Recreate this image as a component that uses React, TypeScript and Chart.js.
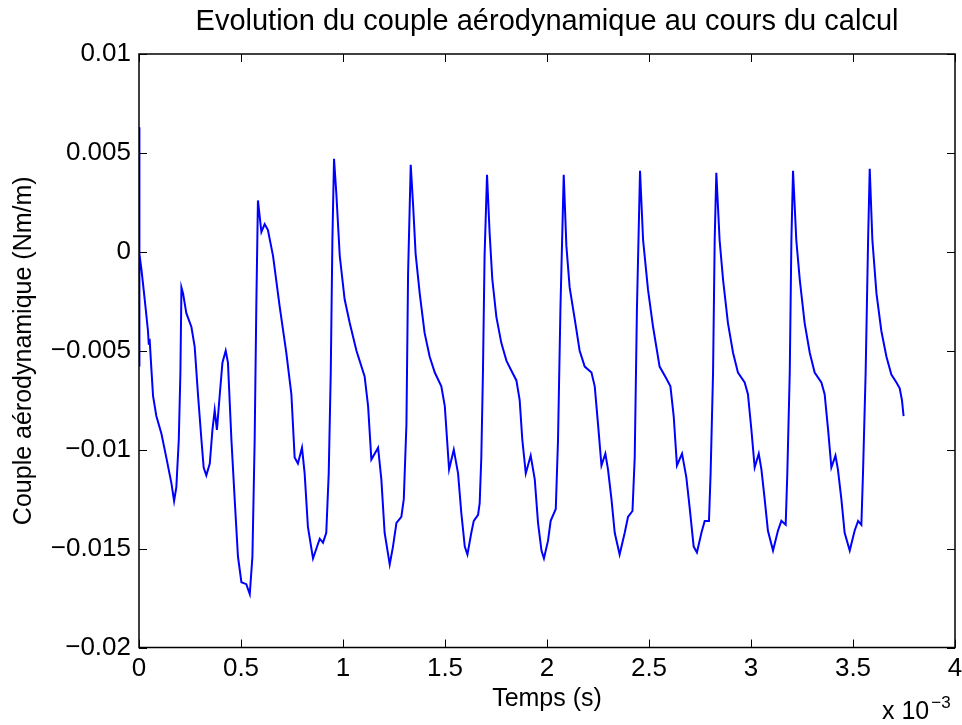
import React, { useEffect, useRef } from "react";
import { Chart, registerables } from "chart.js";

Chart.register(...registerables);

// Time in units of 10^-3 s (as shown on the axis)
const timeMs: number[] = [
  0, 0.001, 0.003, 0.012, 0.028, 0.044, 0.048, 0.052, 0.060, 0.069, 0.085, 0.110, 0.134, 0.159, 0.172,
  0.183, 0.195, 0.203, 0.208, 0.216, 0.232, 0.257, 0.273, 0.289, 0.306, 0.317, 0.330, 0.347, 0.360, 0.371,
  0.382, 0.396, 0.409, 0.425, 0.436, 0.453, 0.469, 0.485, 0.502, 0.526, 0.543, 0.556, 0.567, 0.575, 0.583,
  0.600, 0.616, 0.632, 0.657, 0.690, 0.722, 0.747, 0.763, 0.779, 0.799, 0.812, 0.828, 0.853, 0.886, 0.902,
  0.918, 0.930, 0.940, 0.948, 0.956,
  0.967, 0.984, 1.008, 1.033, 1.066, 1.106, 1.123, 1.139, 1.172, 1.188, 1.204, 1.229, 1.245, 1.262, 1.286,
  1.298, 1.311, 1.319, 1.332,
  1.344, 1.356, 1.376, 1.400, 1.425, 1.450, 1.482, 1.499, 1.520, 1.543, 1.564, 1.580, 1.597, 1.610, 1.629,
  1.641, 1.662, 1.670, 1.678, 1.686, 1.694, 1.706,
  1.719, 1.732, 1.752, 1.776, 1.801, 1.825, 1.850, 1.866, 1.879, 1.896, 1.920, 1.940, 1.956, 1.973, 1.985,
  2.005, 2.018, 2.043, 2.054, 2.066, 2.082,
  2.095, 2.111, 2.136, 2.160, 2.185, 2.218, 2.234, 2.250, 2.267, 2.286, 2.299, 2.316, 2.332, 2.356, 2.381,
  2.397, 2.419, 2.430, 2.441, 2.456,
  2.471, 2.495, 2.520, 2.552, 2.585, 2.605, 2.621, 2.637, 2.662, 2.683, 2.699, 2.719, 2.735, 2.757, 2.773,
  2.794, 2.802, 2.814, 2.822, 2.830,
  2.846, 2.863, 2.887, 2.912, 2.936, 2.969, 2.985, 3.002, 3.018, 3.038, 3.051, 3.067, 3.083, 3.108, 3.132,
  3.149, 3.170, 3.178, 3.190, 3.198, 3.206,
  3.222, 3.239, 3.263, 3.288, 3.312, 3.345, 3.361, 3.378, 3.394, 3.414, 3.426, 3.443, 3.459, 3.484, 3.508,
  3.525, 3.541, 3.549, 3.562, 3.574, 3.582,
  3.595, 3.615, 3.639, 3.664, 3.688, 3.713, 3.729, 3.740, 3.748,
];

// Aerodynamic torque (Nm/m)
const torque: number[] = [
  0.0063, -0.0058, -0.0001, -0.0009, -0.0024, -0.0040, -0.0047, -0.0044, -0.0058, -0.0073, -0.0083, -0.0092, -0.0104, -0.0117, -0.0126,
  -0.0119, -0.0095, -0.0061, -0.0018, -0.0021, -0.0031, -0.0038, -0.0048, -0.0072, -0.0095, -0.0109, -0.0113, -0.0107, -0.0090, -0.0080,
  -0.0090, -0.0072, -0.0056, -0.0050, -0.0056, -0.0095, -0.0125, -0.0154, -0.0167, -0.0168, -0.0173, -0.0154, -0.0095, -0.0028, 0.0026,
  0.0010, 0.0014, 0.0011, -0.0002, -0.0028, -0.0051, -0.0072, -0.0104, -0.0107, -0.0099, -0.0112, -0.0139, -0.0155, -0.0145, -0.0147,
  -0.0142, -0.0112, -0.0061, 0.0006, 0.0047,
  0.0030, -0.0002, -0.0024, -0.0036, -0.0050, -0.0063, -0.0078, -0.0105, -0.0099, -0.0115, -0.0142, -0.0158, -0.0149, -0.0137, -0.0134,
  -0.0125, -0.0087, -0.0011, 0.0044,
  0.0023, -0.0001, -0.0021, -0.0041, -0.0053, -0.0061, -0.0068, -0.0078, -0.0110, -0.0100, -0.0112, -0.0132, -0.0149, -0.0153, -0.0142,
  -0.0136, -0.0133, -0.0127, -0.0104, -0.0061, -0.0002, 0.0039,
  0.0009, -0.0014, -0.0033, -0.0046, -0.0055, -0.0060, -0.0065, -0.0075, -0.0095, -0.0112, -0.0103, -0.0115, -0.0137, -0.0151, -0.0155,
  -0.0146, -0.0136, -0.0130, -0.0095, -0.0028, 0.0039,
  0.0003, -0.0018, -0.0034, -0.0050, -0.0058, -0.0061, -0.0068, -0.0087, -0.0108, -0.0102, -0.0110, -0.0125, -0.0142, -0.0153, -0.0142,
  -0.0134, -0.0131, -0.0104, -0.0028, 0.0041,
  0.0006, -0.0019, -0.0038, -0.0058, -0.0064, -0.0068, -0.0083, -0.0108, -0.0102, -0.0114, -0.0129, -0.0149, -0.0152, -0.0142, -0.0136,
  -0.0136, -0.0112, -0.0061, 0.0006, 0.0040,
  0.0006, -0.0014, -0.0036, -0.0051, -0.0061, -0.0066, -0.0072, -0.0090, -0.0109, -0.0102, -0.0110, -0.0125, -0.0141, -0.0151, -0.0141,
  -0.0136, -0.0138, -0.0112, -0.0061, 0.0006, 0.0041,
  0.0006, -0.0014, -0.0036, -0.0051, -0.0061, -0.0066, -0.0072, -0.0090, -0.0109, -0.0103, -0.0110, -0.0125, -0.0142, -0.0151, -0.0141,
  -0.0136, -0.0138, -0.0112, -0.0061, 0.0006, 0.0042,
  0.0006, -0.0021, -0.0040, -0.0053, -0.0062, -0.0066, -0.0069, -0.0075, -0.0083,
];

const xTicks: number[] = [0, 0.5, 1, 1.5, 2, 2.5, 3, 3.5, 4];
const yTicks: number[] = [-0.02, -0.015, -0.01, -0.005, 0, 0.005, 0.01];

const titleText = "Evolution du couple aérodynamique au cours du calcul";
const xTitle = "Temps (s)";
const yTitle = "Couple aérodynamique (Nm/m)";
const xExponentBase = "x 10";
const xExponent = "\u22123";

const FONT = "'Liberation Sans', Arial, Helvetica, sans-serif";

const boxPlugin = {
  id: "matlabBox",
  afterDraw(chart: any) {
    const { ctx, chartArea } = chart;
    const { left, right, top, bottom } = chartArea;
    const xs = chart.scales.x;
    const ys = chart.scales.y;
    ctx.save();
    ctx.strokeStyle = "#000";
    ctx.lineWidth = 1;
    const tl = 8;
    ctx.beginPath();
    xTicks.forEach((t) => {
      const px = Math.round(xs.getPixelForValue(t)) + 0.5;
      ctx.moveTo(px, bottom);
      ctx.lineTo(px, bottom - tl);
      ctx.moveTo(px, top);
      ctx.lineTo(px, top + tl);
    });
    yTicks.forEach((v) => {
      const py = Math.round(ys.getPixelForValue(v)) + 0.5;
      ctx.moveTo(left, py);
      ctx.lineTo(left + tl, py);
      ctx.moveTo(right, py);
      ctx.lineTo(right - tl, py);
    });
    ctx.stroke();
    ctx.lineWidth = 1.5;
    ctx.strokeRect(left, top, right - left, bottom - top);
    // exponent label
    ctx.fillStyle = "#000";
    ctx.textBaseline = "alphabetic";
    ctx.textAlign = "left";
    ctx.font = `25px ${FONT}`;
    ctx.fillText(xExponentBase, 882, 719);
    const w = ctx.measureText(xExponentBase).width;
    ctx.font = `17px ${FONT}`;
    ctx.fillText(xExponent, 882 + w + 2, 708);
    ctx.restore();
  },
};

export default function App() {
  const ref = useRef<HTMLCanvasElement | null>(null);

  useEffect(() => {
    if (!ref.current) return;
    const points = timeMs.map((t, i) => ({ x: t, y: torque[i] }));
    const chart = new Chart(ref.current, {
      type: "line",
      data: {
        datasets: [
          {
            data: points,
            borderColor: "#0000ff",
            borderWidth: 2,
            pointRadius: 0,
            tension: 0,
            fill: false,
          },
        ],
      },
      options: {
        animation: false,
        responsive: true,
        maintainAspectRatio: false,
        layout: { padding: { left: 0, right: 7, top: 0, bottom: 0 } },
        plugins: {
          legend: { display: false },
          tooltip: { enabled: false },
          title: {
            display: true,
            text: titleText,
            fullSize: false,
            color: "#000",
            font: { family: FONT, size: 29, weight: "normal", lineHeight: 1.2 },
            padding: { top: 5, bottom: 14.2 },
          },
        },
        scales: {
          x: {
            type: "linear",
            min: 0,
            max: 4,
            afterBuildTicks: (s: any) => {
              s.ticks = xTicks.map((v) => ({ value: v }));
            },
            afterFit: (s: any) => {
              s.height = 77.5;
              s.paddingLeft = 0;
              s.paddingRight = 0;
            },
            grid: { display: false, drawTicks: false },
            border: { display: false },
            ticks: {
              color: "#000",
              padding: 6,
              maxRotation: 0,
              autoSkip: false,
              font: { family: FONT, size: 26 },
              callback: (v: any) => String(Math.round(Number(v) * 10) / 10),
            },
            title: {
              display: true,
              text: xTitle,
              color: "#000",
              font: { family: FONT, size: 25, lineHeight: 1.2 },
              padding: { top: 0, bottom: 11 },
            },
          },
          y: {
            type: "linear",
            min: -0.02,
            max: 0.01,
            afterBuildTicks: (s: any) => {
              s.ticks = yTicks.map((v) => ({ value: v }));
            },
            afterFit: (s: any) => {
              s.width = 139;
              s.paddingTop = 0;
              s.paddingBottom = 0;
            },
            grid: { display: false, drawTicks: false },
            border: { display: false },
            ticks: {
              color: "#000",
              padding: 8,
              autoSkip: false,
              font: { family: FONT, size: 26 },
              callback: (v: any) => {
                const r = Math.round(Number(v) * 10000) / 10000;
                if (r === 0) return "0";
                return String(r).replace("-", "\u2212");
              },
            },
            title: {
              display: true,
              text: yTitle,
              color: "#000",
              font: { family: FONT, size: 25, lineHeight: 1.2 },
              padding: { top: 9, bottom: 0 },
            },
          },
        },
      },
      plugins: [boxPlugin],
    });
    return () => chart.destroy();
  }, []);

  return (
    <div style={{ position: "absolute", left: 0, top: 0, width: 962, height: 725, background: "#fff" }}>
      <canvas ref={ref} />
    </div>
  );
}
